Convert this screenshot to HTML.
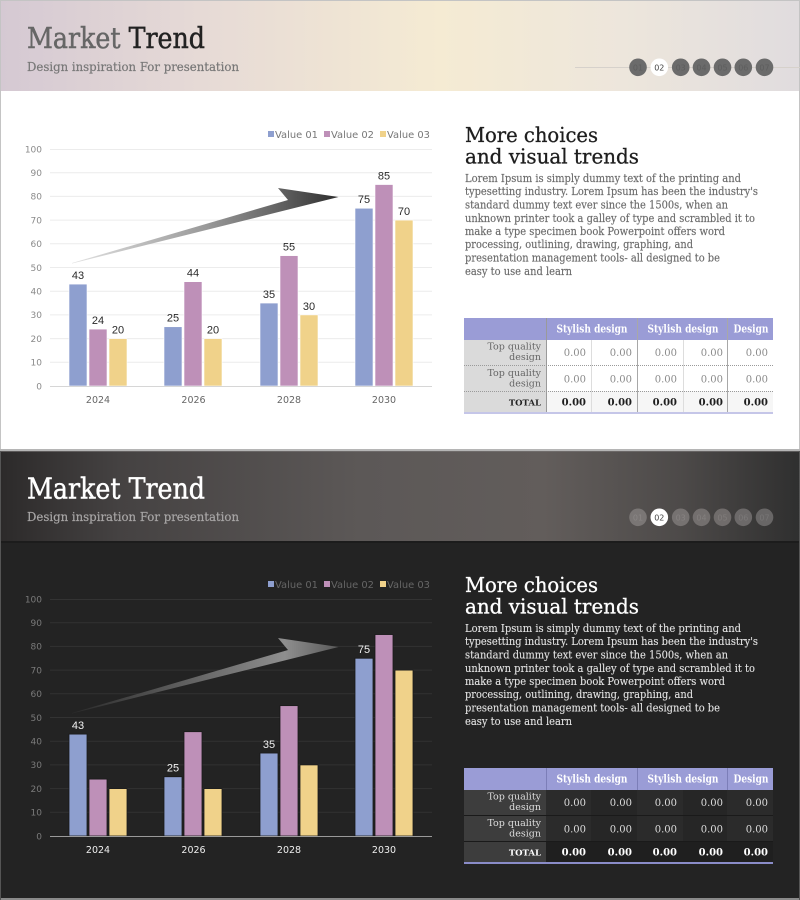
<!DOCTYPE html>
<html>
<head>
<meta charset="utf-8">
<style>
html,body{margin:0;padding:0;background:#fff;}
svg{display:block;}
.sl{font-family:"DejaVu Serif","Liberation Serif",serif;}
.ss{font-family:"DejaVu Sans","Liberation Sans",sans-serif;}
.ls{font-family:"Liberation Sans","DejaVu Sans",sans-serif;}
</style>
</head>
<body>
<svg width="800" height="900" viewBox="0 0 800 900" xmlns="http://www.w3.org/2000/svg">
<defs>
  <linearGradient id="hdrTop" x1="0" y1="0" x2="1" y2="0">
    <stop offset="0" stop-color="#d5c9d3"/>
    <stop offset="0.25" stop-color="#e6dad6"/>
    <stop offset="0.55" stop-color="#f5ebd3"/>
    <stop offset="0.78" stop-color="#ede6dc"/>
    <stop offset="1" stop-color="#e0dcde"/>
  </linearGradient>
  <linearGradient id="hdrBot" x1="0" y1="0" x2="1" y2="0">
    <stop offset="0" stop-color="#2c2a2a"/>
    <stop offset="0.15" stop-color="#454242"/>
    <stop offset="0.45" stop-color="#5c5857"/>
    <stop offset="0.68" stop-color="#625d5b"/>
    <stop offset="0.85" stop-color="#4d4a49"/>
    <stop offset="1" stop-color="#2f2f2f"/>
  </linearGradient>
  <linearGradient id="arrTop" gradientUnits="userSpaceOnUse" x1="72" y1="0" x2="338" y2="0">
    <stop offset="0" stop-color="#e2e2e2"/>
    <stop offset="0.5" stop-color="#9a9a9a"/>
    <stop offset="0.8" stop-color="#5e5e5e"/>
    <stop offset="1" stop-color="#2e2e2e"/>
  </linearGradient>
  <linearGradient id="arrBot" gradientUnits="userSpaceOnUse" x1="72" y1="0" x2="338" y2="0">
    <stop offset="0" stop-color="#2a2a2a"/>
    <stop offset="0.5" stop-color="#6a6a6a"/>
    <stop offset="0.8" stop-color="#8e8e8e"/>
    <stop offset="1" stop-color="#5a5a5a"/>
  </linearGradient>
</defs>

<!-- ================= TOP PANEL ================= -->
<rect x="0" y="0" width="800" height="450" fill="#ffffff"/>
<rect x="1" y="1" width="798" height="90" fill="url(#hdrTop)"/>
<rect x="0" y="0" width="800" height="1" fill="#c4c4c4"/>
<rect x="0" y="0" width="1" height="450" fill="#c4c4c4"/>
<rect x="799" y="0" width="1" height="450" fill="#c4c4c4"/>
<rect x="0" y="449" width="800" height="2" fill="#b5b5b5"/>

<text class="sl" x="27" y="48" font-size="29" textLength="178" lengthAdjust="spacingAndGlyphs"><tspan fill="#666666" stroke="#666666" stroke-width="0.5">Market </tspan><tspan fill="#222222" stroke="#222222" stroke-width="0.5">Trend</tspan></text>
<text class="sl" x="27" y="71" font-size="12.5" fill="#777777" stroke="#777777" stroke-width="0.2" textLength="212" lengthAdjust="spacingAndGlyphs">Design inspiration For presentation</text>

<!-- dots top -->
<line x1="575" y1="67.5" x2="800" y2="67.5" stroke="#d6d1cb" stroke-width="1"/>
<g class="ss" font-size="8" text-anchor="middle">
  <circle cx="638" cy="67.3" r="8.8" fill="#6b6b6b"/><text x="638" y="70.3" fill="#5e5e5e">01</text>
  <circle cx="659.3" cy="67.3" r="8.8" fill="#ffffff"/><text x="659.3" y="70.3" fill="#444444">02</text>
  <circle cx="680.7" cy="67.3" r="8.8" fill="#6b6b6b"/><text x="680.7" y="70.3" fill="#5e5e5e">03</text>
  <circle cx="701.5" cy="67.3" r="8.8" fill="#6b6b6b"/><text x="701.5" y="70.3" fill="#5e5e5e">04</text>
  <circle cx="722.5" cy="67.3" r="8.8" fill="#6b6b6b"/><text x="722.5" y="70.3" fill="#5e5e5e">05</text>
  <circle cx="743.3" cy="67.3" r="8.8" fill="#6b6b6b"/><text x="743.3" y="70.3" fill="#5e5e5e">06</text>
  <circle cx="764.5" cy="67.3" r="8.8" fill="#6b6b6b"/><text x="764.5" y="70.3" fill="#5e5e5e">07</text>
</g>

<!-- chart top -->
<g>
  <g stroke="#ececec" stroke-width="1">
    <line x1="50" y1="149.5" x2="432" y2="149.5"/>
    <line x1="50" y1="172.7" x2="432" y2="172.7"/>
    <line x1="50" y1="196.4" x2="432" y2="196.4"/>
    <line x1="50" y1="220.1" x2="432" y2="220.1"/>
    <line x1="50" y1="243.8" x2="432" y2="243.8"/>
    <line x1="50" y1="267.5" x2="432" y2="267.5"/>
    <line x1="50" y1="291.2" x2="432" y2="291.2"/>
    <line x1="50" y1="314.9" x2="432" y2="314.9"/>
    <line x1="50" y1="338.6" x2="432" y2="338.6"/>
    <line x1="50" y1="362.3" x2="432" y2="362.3"/>
  </g>
  <g class="ss" font-size="9" fill="#8a8a8a" text-anchor="end">
    <text x="42" y="152.5">100</text>
    <text x="42" y="176">90</text>
    <text x="42" y="199.7">80</text>
    <text x="42" y="223.4">70</text>
    <text x="42" y="247.1">60</text>
    <text x="42" y="270.8">50</text>
    <text x="42" y="294.5">40</text>
    <text x="42" y="318.2">30</text>
    <text x="42" y="341.9">20</text>
    <text x="42" y="365.6">10</text>
    <text x="42" y="389.3">0</text>
  </g>
  <!-- legend -->
  <rect x="268" y="131" width="6" height="6" fill="#8e9fcf"/>
  <rect x="324" y="131" width="6" height="6" fill="#be90b8"/>
  <rect x="380" y="131" width="6" height="6" fill="#f0d28a"/>
  <g class="ss" font-size="9.5" fill="#777777">
    <text x="275" y="138" textLength="43" lengthAdjust="spacingAndGlyphs">Value 01</text>
    <text x="331" y="138" textLength="43" lengthAdjust="spacingAndGlyphs">Value 02</text>
    <text x="387" y="138" textLength="43" lengthAdjust="spacingAndGlyphs">Value 03</text>
  </g>
  <!-- arrow -->
  <polygon points="72,263 288,200 278,188 338.5,197 72,263.5" fill="url(#arrTop)"/>
  <!-- bars -->
  <g stroke="#ffffff" stroke-width="0.6">
    <rect x="69" y="284.1" width="18" height="101.9" fill="#8e9fcf"/>
    <rect x="89" y="329.1" width="18" height="56.9" fill="#be90b8"/>
    <rect x="109" y="338.6" width="18" height="47.4" fill="#f0d28a"/>
    <rect x="164" y="326.75" width="18" height="59.25" fill="#8e9fcf"/>
    <rect x="184" y="281.7" width="18" height="104.3" fill="#be90b8"/>
    <rect x="204" y="338.6" width="18" height="47.4" fill="#f0d28a"/>
    <rect x="260" y="303.05" width="18" height="82.95" fill="#8e9fcf"/>
    <rect x="280" y="255.65" width="18" height="130.35" fill="#be90b8"/>
    <rect x="300" y="314.9" width="18" height="71.1" fill="#f0d28a"/>
    <rect x="355" y="208.25" width="18" height="177.75" fill="#8e9fcf"/>
    <rect x="375" y="184.55" width="18" height="201.45" fill="#be90b8"/>
    <rect x="395" y="220.1" width="18" height="165.9" fill="#f0d28a"/>
  </g>
  <line x1="50" y1="386.5" x2="432" y2="386.5" stroke="#d6d6d6" stroke-width="1"/>
  <g class="ls" font-size="11" fill="#2a2a2a" text-anchor="middle">
    <text x="78" y="279">43</text>
    <text x="98" y="324">24</text>
    <text x="118" y="333.5">20</text>
    <text x="173" y="321.7">25</text>
    <text x="193" y="276.7">44</text>
    <text x="213" y="333.5">20</text>
    <text x="269" y="298">35</text>
    <text x="289" y="250.6">55</text>
    <text x="309" y="309.9">30</text>
    <text x="364" y="203.2">75</text>
    <text x="384" y="179.5">85</text>
    <text x="404" y="215">70</text>
  </g>
  <g class="ss" font-size="9.5" fill="#666666" text-anchor="middle">
    <text x="98" y="403">2024</text>
    <text x="193.5" y="403">2026</text>
    <text x="289" y="403">2028</text>
    <text x="384" y="403">2030</text>
  </g>
</g>

<!-- right text top -->
<g class="sl">
  <text x="465" y="142" font-size="20.5" fill="#1e1e1e" stroke="#1e1e1e" stroke-width="0.3" textLength="133" lengthAdjust="spacingAndGlyphs">More choices</text>
  <text x="465" y="163.5" font-size="20.5" fill="#1e1e1e" stroke="#1e1e1e" stroke-width="0.3" textLength="174" lengthAdjust="spacingAndGlyphs">and visual trends</text>
  <g font-size="11" fill="#6a6a6a" stroke="#6a6a6a" stroke-width="0.15">
    <text x="465" y="182" textLength="276" lengthAdjust="spacingAndGlyphs">Lorem Ipsum is simply dummy text of the printing and</text>
    <text x="465" y="195.2" textLength="293" lengthAdjust="spacingAndGlyphs">typesetting industry. Lorem Ipsum has been the industry's</text>
    <text x="465" y="208.5" textLength="263" lengthAdjust="spacingAndGlyphs">standard dummy text ever since the 1500s, when an</text>
    <text x="465" y="221.8" textLength="290" lengthAdjust="spacingAndGlyphs">unknown printer took a galley of type and scrambled it to</text>
    <text x="465" y="235" textLength="260" lengthAdjust="spacingAndGlyphs">make a type specimen book Powerpoint offers word</text>
    <text x="465" y="248.2" textLength="228" lengthAdjust="spacingAndGlyphs">processing, outlining, drawing, graphing, and</text>
    <text x="465" y="261.5" textLength="255" lengthAdjust="spacingAndGlyphs">presentation management tools- all designed to be</text>
    <text x="465" y="274.8" textLength="107" lengthAdjust="spacingAndGlyphs">easy to use and learn</text>
  </g>
</g>

<!-- table top -->
<g>
  <rect x="464" y="318" width="309" height="22" fill="#9a9cd6"/>
  <rect x="464" y="340" width="82" height="72" fill="#dadada"/>
  <rect x="546" y="340" width="227" height="51" fill="#ffffff"/>
  <rect x="546" y="391" width="227" height="21" fill="#f6f6f6"/>
  <rect x="464" y="412" width="309" height="2" fill="#c5c6e8"/>
  <g stroke-width="1">
    <line x1="546.5" y1="318" x2="546.5" y2="412" stroke="#9a9a9a"/>
    <line x1="637.5" y1="318" x2="637.5" y2="412" stroke="#a8a8a8"/>
    <line x1="727.5" y1="318" x2="727.5" y2="412" stroke="#a8a8a8"/>
    <line x1="591.5" y1="340" x2="591.5" y2="412" stroke="#dddddd"/>
    <line x1="683.5" y1="340" x2="683.5" y2="412" stroke="#dddddd"/>
    <line x1="464" y1="365.5" x2="773" y2="365.5" stroke="#9a9a9a" stroke-dasharray="1,1"/>
    <line x1="464" y1="391.5" x2="773" y2="391.5" stroke="#9a9a9a" stroke-dasharray="1,1"/>
  </g>
  <g class="sl" font-size="11" font-weight="bold" fill="#ffffff">
    <text x="556.5" y="332.5" textLength="71" lengthAdjust="spacingAndGlyphs">Stylish design</text>
    <text x="647.5" y="332.5" textLength="71" lengthAdjust="spacingAndGlyphs">Stylish design</text>
    <text x="733.5" y="332.5" textLength="35" lengthAdjust="spacingAndGlyphs">Design</text>
  </g>
  <g class="sl" font-size="9.5" fill="#666666" text-anchor="end">
    <text x="541" y="349.5">Top quality</text>
    <text x="541" y="360">design</text>
    <text x="541" y="376">Top quality</text>
    <text x="541" y="386.5">design</text>
    <text x="541" y="405.5" font-size="8.5" font-weight="bold" fill="#222222">TOTAL</text>
  </g>
  <g class="sl" font-size="10" fill="#8a8a8a" text-anchor="end">
    <text x="586" y="356">0.00</text><text x="632" y="356">0.00</text><text x="677" y="356">0.00</text><text x="723" y="356">0.00</text><text x="768" y="356">0.00</text>
    <text x="586" y="382.5">0.00</text><text x="632" y="382.5">0.00</text><text x="677" y="382.5">0.00</text><text x="723" y="382.5">0.00</text><text x="768" y="382.5">0.00</text>
  </g>
  <g class="sl" font-size="10" font-weight="bold" fill="#1e1e1e" text-anchor="end">
    <text x="586" y="405.5">0.00</text><text x="632" y="405.5">0.00</text><text x="677" y="405.5">0.00</text><text x="723" y="405.5">0.00</text><text x="768" y="405.5">0.00</text>
  </g>
</g>

<!-- ================= BOTTOM PANEL ================= -->
<rect x="0" y="451" width="800" height="449" fill="#232323"/>
<rect x="0" y="451" width="800" height="90" fill="url(#hdrBot)"/>
<rect x="0" y="451" width="800" height="1" fill="#7a7676" opacity="0.6"/>
<rect x="0" y="541" width="800" height="2" fill="#1c1c1c"/>
<rect x="0" y="898" width="800" height="2" fill="#8a8a8a"/>
<rect x="0" y="451" width="1" height="449" fill="#555555"/>
<rect x="799" y="451" width="1" height="449" fill="#555555"/>

<g transform="translate(0,450)">
  <text class="sl" x="27" y="48.5" font-size="29" fill="#ffffff" stroke="#ffffff" stroke-width="0.5" textLength="178" lengthAdjust="spacingAndGlyphs">Market Trend</text>
  <text class="sl" x="27" y="71" font-size="12.5" fill="#a8a6a6" stroke="#a8a6a6" stroke-width="0.2" textLength="212" lengthAdjust="spacingAndGlyphs">Design inspiration For presentation</text>

  <g class="ss" font-size="8" text-anchor="middle">
    <circle cx="638" cy="67.3" r="8.8" fill="#7a7675"/><text x="638" y="70.3" fill="#8a8685">01</text>
    <circle cx="659.3" cy="67.3" r="8.8" fill="#ffffff"/><text x="659.3" y="70.3" fill="#444444">02</text>
    <circle cx="680.7" cy="67.3" r="8.8" fill="#767271"/><text x="680.7" y="70.3" fill="#868281">03</text>
    <circle cx="701.5" cy="67.3" r="8.8" fill="#736f6e"/><text x="701.5" y="70.3" fill="#837f7e">04</text>
    <circle cx="722.5" cy="67.3" r="8.8" fill="#706c6b"/><text x="722.5" y="70.3" fill="#807c7b">05</text>
    <circle cx="743.3" cy="67.3" r="8.8" fill="#6c6969"/><text x="743.3" y="70.3" fill="#7c7979">06</text>
    <circle cx="764.5" cy="67.3" r="8.8" fill="#686666"/><text x="764.5" y="70.3" fill="#787676">07</text>
  </g>

  <!-- chart bottom -->
  <g stroke="#333333" stroke-width="1">
    <line x1="50" y1="149.5" x2="432" y2="149.5"/>
    <line x1="50" y1="172.7" x2="432" y2="172.7"/>
    <line x1="50" y1="196.4" x2="432" y2="196.4"/>
    <line x1="50" y1="220.1" x2="432" y2="220.1"/>
    <line x1="50" y1="243.8" x2="432" y2="243.8"/>
    <line x1="50" y1="267.5" x2="432" y2="267.5"/>
    <line x1="50" y1="291.2" x2="432" y2="291.2"/>
    <line x1="50" y1="314.9" x2="432" y2="314.9"/>
    <line x1="50" y1="338.6" x2="432" y2="338.6"/>
    <line x1="50" y1="362.3" x2="432" y2="362.3"/>
  </g>
  <g class="ss" font-size="9" fill="#7a7a7a" text-anchor="end">
    <text x="42" y="152.5">100</text>
    <text x="42" y="176">90</text>
    <text x="42" y="199.7">80</text>
    <text x="42" y="223.4">70</text>
    <text x="42" y="247.1">60</text>
    <text x="42" y="270.8">50</text>
    <text x="42" y="294.5">40</text>
    <text x="42" y="318.2">30</text>
    <text x="42" y="341.9">20</text>
    <text x="42" y="365.6">10</text>
    <text x="42" y="389.3">0</text>
  </g>
  <rect x="268" y="131" width="6" height="6" fill="#8e9fcf"/>
  <rect x="324" y="131" width="6" height="6" fill="#be90b8"/>
  <rect x="380" y="131" width="6" height="6" fill="#f0d28a"/>
  <g class="ss" font-size="9.5" fill="#666666">
    <text x="275" y="138" textLength="43" lengthAdjust="spacingAndGlyphs">Value 01</text>
    <text x="331" y="138" textLength="43" lengthAdjust="spacingAndGlyphs">Value 02</text>
    <text x="387" y="138" textLength="43" lengthAdjust="spacingAndGlyphs">Value 03</text>
  </g>
  <polygon points="72,263 288,200 278,188 338.5,197 72,263.5" fill="url(#arrBot)"/>
  <g stroke="#1a1a1a" stroke-width="0.8">
    <rect x="69" y="284.1" width="18" height="101.9" fill="#8e9fcf"/>
    <rect x="89" y="329.1" width="18" height="56.9" fill="#be90b8"/>
    <rect x="109" y="338.6" width="18" height="47.4" fill="#f0d28a"/>
    <rect x="164" y="326.75" width="18" height="59.25" fill="#8e9fcf"/>
    <rect x="184" y="281.7" width="18" height="104.3" fill="#be90b8"/>
    <rect x="204" y="338.6" width="18" height="47.4" fill="#f0d28a"/>
    <rect x="260" y="303.05" width="18" height="82.95" fill="#8e9fcf"/>
    <rect x="280" y="255.65" width="18" height="130.35" fill="#be90b8"/>
    <rect x="300" y="314.9" width="18" height="71.1" fill="#f0d28a"/>
    <rect x="355" y="208.25" width="18" height="177.75" fill="#8e9fcf"/>
    <rect x="375" y="184.55" width="18" height="201.45" fill="#be90b8"/>
    <rect x="395" y="220.1" width="18" height="165.9" fill="#f0d28a"/>
  </g>
  <line x1="50" y1="386.5" x2="432" y2="386.5" stroke="#9a9a9a" stroke-width="1"/>
  <g class="ls" font-size="11" fill="#f2f2f2" text-anchor="middle">
    <text x="78" y="279">43</text>
    <text x="173" y="321.7">25</text>
    <text x="269" y="298">35</text>
    <text x="364" y="203.2">75</text>
  </g>
  <g class="ss" font-size="9.5" fill="#eeeeee" text-anchor="middle">
    <text x="98" y="403">2024</text>
    <text x="193.5" y="403">2026</text>
    <text x="289" y="403">2028</text>
    <text x="384" y="403">2030</text>
  </g>

  <g class="sl">
    <text x="465" y="142" font-size="20.5" fill="#ffffff" stroke="#ffffff" stroke-width="0.3" textLength="133" lengthAdjust="spacingAndGlyphs">More choices</text>
    <text x="465" y="163.5" font-size="20.5" fill="#ffffff" stroke="#ffffff" stroke-width="0.3" textLength="174" lengthAdjust="spacingAndGlyphs">and visual trends</text>
    <g font-size="11" fill="#e4e4e4" stroke="#e4e4e4" stroke-width="0.1">
      <text x="465" y="182" textLength="276" lengthAdjust="spacingAndGlyphs">Lorem Ipsum is simply dummy text of the printing and</text>
      <text x="465" y="195.2" textLength="293" lengthAdjust="spacingAndGlyphs">typesetting industry. Lorem Ipsum has been the industry's</text>
      <text x="465" y="208.5" textLength="263" lengthAdjust="spacingAndGlyphs">standard dummy text ever since the 1500s, when an</text>
      <text x="465" y="221.8" textLength="290" lengthAdjust="spacingAndGlyphs">unknown printer took a galley of type and scrambled it to</text>
      <text x="465" y="235" textLength="260" lengthAdjust="spacingAndGlyphs">make a type specimen book Powerpoint offers word</text>
      <text x="465" y="248.2" textLength="228" lengthAdjust="spacingAndGlyphs">processing, outlining, drawing, graphing, and</text>
      <text x="465" y="261.5" textLength="255" lengthAdjust="spacingAndGlyphs">presentation management tools- all designed to be</text>
      <text x="465" y="274.8" textLength="107" lengthAdjust="spacingAndGlyphs">easy to use and learn</text>
    </g>
  </g>

  <!-- table bottom -->
  <rect x="464" y="318" width="309" height="22" fill="#9a9cd6"/>
  <rect x="464" y="340" width="82" height="72" fill="#3d3d3d"/>
  <rect x="546" y="340" width="45" height="51" fill="#2b2b2b"/>
  <rect x="591" y="340" width="46" height="51" fill="#262626"/>
  <rect x="637" y="340" width="46" height="51" fill="#2b2b2b"/>
  <rect x="683" y="340" width="44" height="51" fill="#262626"/>
  <rect x="727" y="340" width="46" height="51" fill="#2b2b2b"/>
  <rect x="546" y="391" width="227" height="21" fill="#1f1f1f"/>
  <rect x="464" y="412" width="309" height="2" fill="#8a8cc8"/>
  <g stroke-width="1">
    <line x1="546.5" y1="318" x2="546.5" y2="340" stroke="#7c7eb8"/>
    <line x1="637.5" y1="318" x2="637.5" y2="340" stroke="#7c7eb8"/>
    <line x1="727.5" y1="318" x2="727.5" y2="340" stroke="#7c7eb8"/>
    <line x1="464" y1="365.5" x2="773" y2="365.5" stroke="#1a1a1a"/>
    <line x1="464" y1="391.5" x2="773" y2="391.5" stroke="#1a1a1a"/>
  </g>
  <g class="sl" font-size="11" font-weight="bold" fill="#ffffff">
    <text x="556.5" y="332.5" textLength="71" lengthAdjust="spacingAndGlyphs">Stylish design</text>
    <text x="647.5" y="332.5" textLength="71" lengthAdjust="spacingAndGlyphs">Stylish design</text>
    <text x="733.5" y="332.5" textLength="35" lengthAdjust="spacingAndGlyphs">Design</text>
  </g>
  <g class="sl" font-size="9.5" fill="#dddddd" text-anchor="end">
    <text x="541" y="349.5">Top quality</text>
    <text x="541" y="360">design</text>
    <text x="541" y="376">Top quality</text>
    <text x="541" y="386.5">design</text>
    <text x="541" y="405.5" font-size="8.5" font-weight="bold" fill="#ffffff">TOTAL</text>
  </g>
  <g class="sl" font-size="10" fill="#dddddd" text-anchor="end">
    <text x="586" y="356">0.00</text><text x="632" y="356">0.00</text><text x="677" y="356">0.00</text><text x="723" y="356">0.00</text><text x="768" y="356">0.00</text>
    <text x="586" y="382.5">0.00</text><text x="632" y="382.5">0.00</text><text x="677" y="382.5">0.00</text><text x="723" y="382.5">0.00</text><text x="768" y="382.5">0.00</text>
  </g>
  <g class="sl" font-size="10" font-weight="bold" fill="#ffffff" text-anchor="end">
    <text x="586" y="405.5">0.00</text><text x="632" y="405.5">0.00</text><text x="677" y="405.5">0.00</text><text x="723" y="405.5">0.00</text><text x="768" y="405.5">0.00</text>
  </g>
</g>
</svg>
</body>
</html>
